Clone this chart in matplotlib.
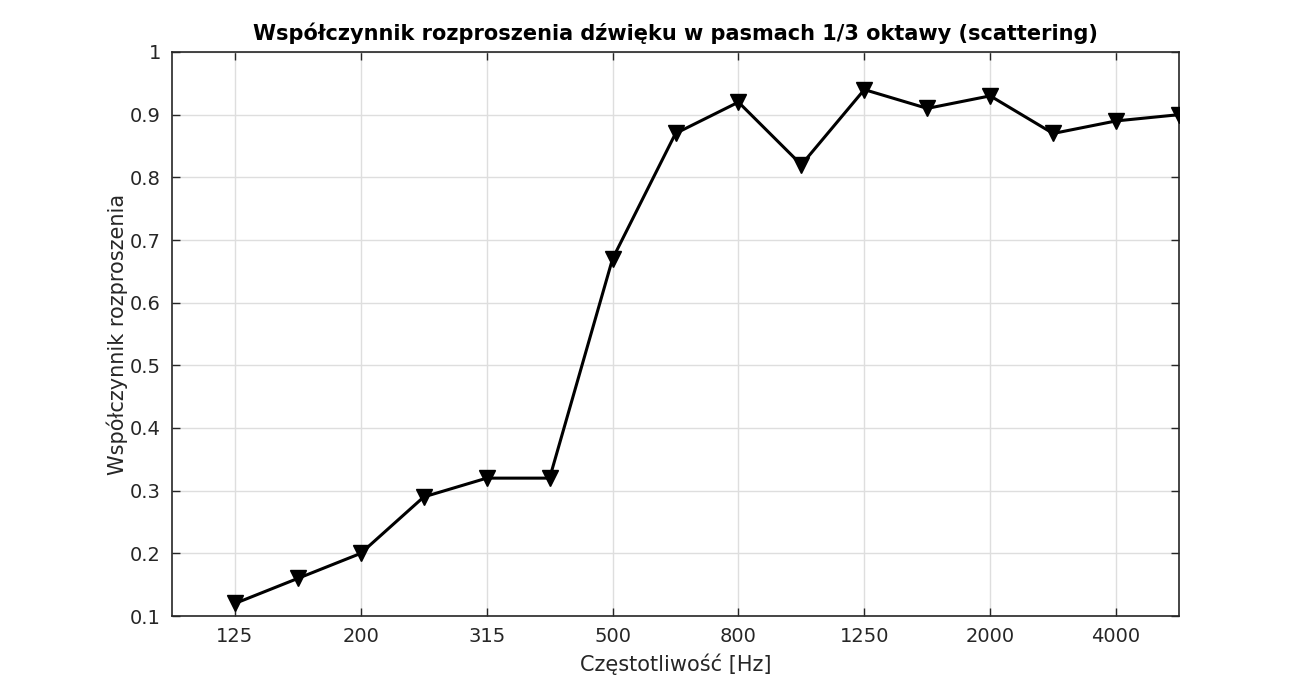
import matplotlib
matplotlib.use("Agg")
import matplotlib.pyplot as plt

plt.rcParams['font.family'] = ['DejaVu Sans']

bands = ["125", "160", "200", "250", "315", "400", "500", "630", "800",
         "1000", "1250", "1600", "2000", "2500", "3150", "4000"]
scattering = [0.12, 0.16, 0.20, 0.29, 0.32, 0.32, 0.67, 0.87, 0.92,
              0.82, 0.94, 0.91, 0.93, 0.87, 0.89, 0.90]
tick_labels = ["125", "200", "315", "500", "800", "1250", "2000", "4000"]
y_ticks = [0.1, 0.2, 0.3, 0.4, 0.5, 0.6, 0.7, 0.8, 0.9, 1.0]
y_tick_labels = ["0.1", "0.2", "0.3", "0.4", "0.5", "0.6", "0.7", "0.8", "0.9", "1"]

title = "Współczynnik rozproszenia dźwięku w pasmach 1/3 oktawy (scattering)"
xlabel = "Częstotliwość [Hz]"
ylabel = "Współczynnik rozproszenia"

dark = "#262626"
fig = plt.figure(figsize=(13.04, 6.92), dpi=100)
ax = fig.add_axes([172/1304, 1-616/692, (1179-172)/1304, (616-52)/692])

x = list(range(1, len(bands) + 1))
ax.plot(x, scattering, color="black", linewidth=2.2, marker="v",
        markersize=11.5, markerfacecolor="black", markeredgecolor="black", zorder=3)

ax.set_xlim(0, 16)
ax.set_ylim(0.1, 1.0)
ax.set_xticks(x[::2])
ax.set_xticklabels(tick_labels)
ax.set_yticks(y_ticks)
ax.set_yticklabels(y_tick_labels)

ax.grid(True, color="#dedede", linewidth=1.0, zorder=0)
ax.set_axisbelow(True)
ax.tick_params(direction="in", length=6, width=1, colors=dark, labelsize=14,
               top=True, right=True, pad=8)
for s in ax.spines.values():
    s.set_color(dark)
    s.set_linewidth(1.2)

ax.set_title(title, fontsize=15, fontweight="bold", color="black", pad=9)
ax.set_xlabel(xlabel, fontsize=15, color=dark, labelpad=5)
ax.set_ylabel(ylabel, fontsize=15, color=dark, labelpad=1)

fig.savefig("out.png", dpi=100)
